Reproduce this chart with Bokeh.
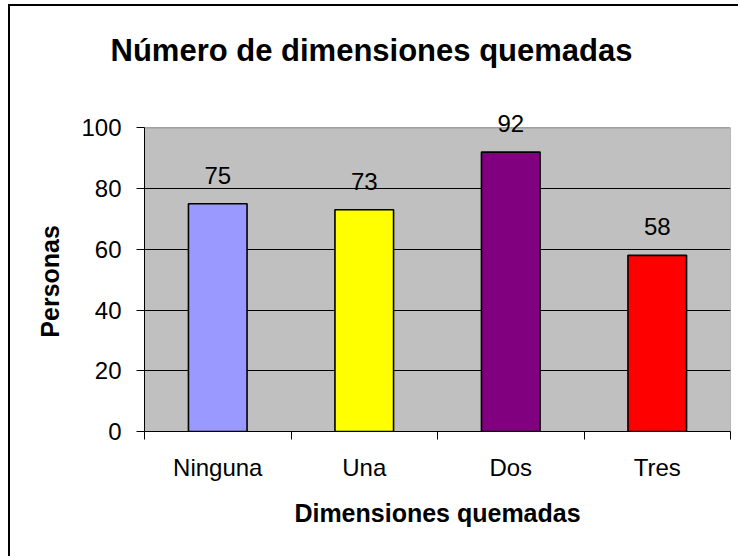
from bokeh.plotting import figure
from bokeh.models import ColumnDataSource, FixedTicker, Range1d, LabelSet, Title
from bokeh.core.properties import value
from bokeh.embed import file_html
from bokeh.resources import INLINE

categories = ["Ninguna", "Una", "Dos", "Tres"]
personas = [75, 73, 92, 58]
colors = ["#9999FF", "#FFFF00", "#800080", "#FF0000"]
y_ticks = [0, 20, 40, 60, 80, 100]

FONT = "Liberation Sans"

xpos = [i + 0.5 for i in range(len(categories))]
source = ColumnDataSource(dict(x=xpos, top=personas, color=colors,
                               label=[str(v) for v in personas]))

p = figure(width=730, height=552, output_backend="svg", toolbar_location=None,
           x_range=Range1d(0, len(categories)), y_range=Range1d(0, 108),
           min_border_left=134, min_border_right=10, min_border_top=97,
           min_border_bottom=127)
p.styles = {"border-left": "2px solid black", "border-top": "2px solid black",
            "margin-left": "8px", "margin-top": "4px"}

p.background_fill_color = "white"
p.border_fill_color = "white"
p.outline_line_color = None

# plot area (grey) limited to the value axis 0..100
area = p.quad(left=0, right=len(categories), bottom=y_ticks[0], top=y_ticks[-1],
              fill_color="#C0C0C0", line_color="#808080", line_width=1, level="image")

p.vbar(x="x", top="top", width=0.4, bottom=0, source=source,
       fill_color="color", line_color="black", line_width=1.6)
labels = LabelSet(x="x", y="top", text="label", source=source, text_align="center",
                  text_baseline="alphabetic", y_offset=20, text_font=value(FONT),
                  text_font_size="24px", text_color="black")
p.add_layout(labels)

# Title (second empty line lifts it away from the plot)
t = Title(text="Número de dimensiones quemadas\n", align="left", offset=-34,
          text_font=FONT, text_font_size="31px", text_font_style="bold",
          text_color="black", standoff=2)
p.add_layout(t, "above")

# Y axis
p.yaxis.ticker = FixedTicker(ticks=y_ticks)
p.yaxis.bounds = (y_ticks[0], y_ticks[-1])
p.yaxis.axis_label = "Personas" + "\u00a0" * 4
p.yaxis.axis_label_text_font = FONT
p.yaxis.axis_label_text_font_size = "25px"
p.yaxis.axis_label_text_font_style = "bold"
p.yaxis.axis_label_text_color = "black"
p.yaxis.axis_label_standoff = 14
p.yaxis.major_label_text_font = FONT
p.yaxis.major_label_text_font_size = "24px"
p.yaxis.major_label_text_color = "black"
p.yaxis.major_label_standoff = 15
p.yaxis.major_tick_in = 0
p.yaxis.major_tick_out = 8
p.yaxis.minor_tick_out = 0
p.yaxis.minor_tick_in = 0
p.yaxis.axis_line_color = "black"
p.yaxis.major_tick_line_color = "black"

# X axis
p.xaxis.ticker = FixedTicker(ticks=xpos, minor_ticks=list(range(len(categories) + 1)))
p.xaxis.major_label_overrides = {x: c for x, c in zip(xpos, categories)}
p.xaxis.axis_label = "Dimensiones quemadas"
p.xaxis.axis_label_text_font = FONT
p.xaxis.axis_label_text_font_size = "25px"
p.xaxis.axis_label_text_font_style = "bold"
p.xaxis.axis_label_text_color = "black"
p.xaxis.axis_label_standoff = 15
p.xaxis.major_label_text_font = FONT
p.xaxis.major_label_text_font_size = "24px"
p.xaxis.major_label_text_color = "black"
p.xaxis.major_label_standoff = 14
p.xaxis.major_tick_in = 0
p.xaxis.major_tick_out = 0
p.xaxis.minor_tick_in = 0
p.xaxis.minor_tick_out = 8
p.xaxis.minor_tick_line_color = "black"
p.xaxis.axis_line_color = "black"

# Grid
p.xgrid.visible = False
p.ygrid.ticker = FixedTicker(ticks=y_ticks[1:-1])
p.ygrid.grid_line_color = "black"
p.ygrid.grid_line_width = 1

open("out.html", "w").write(file_html(p, INLINE))
